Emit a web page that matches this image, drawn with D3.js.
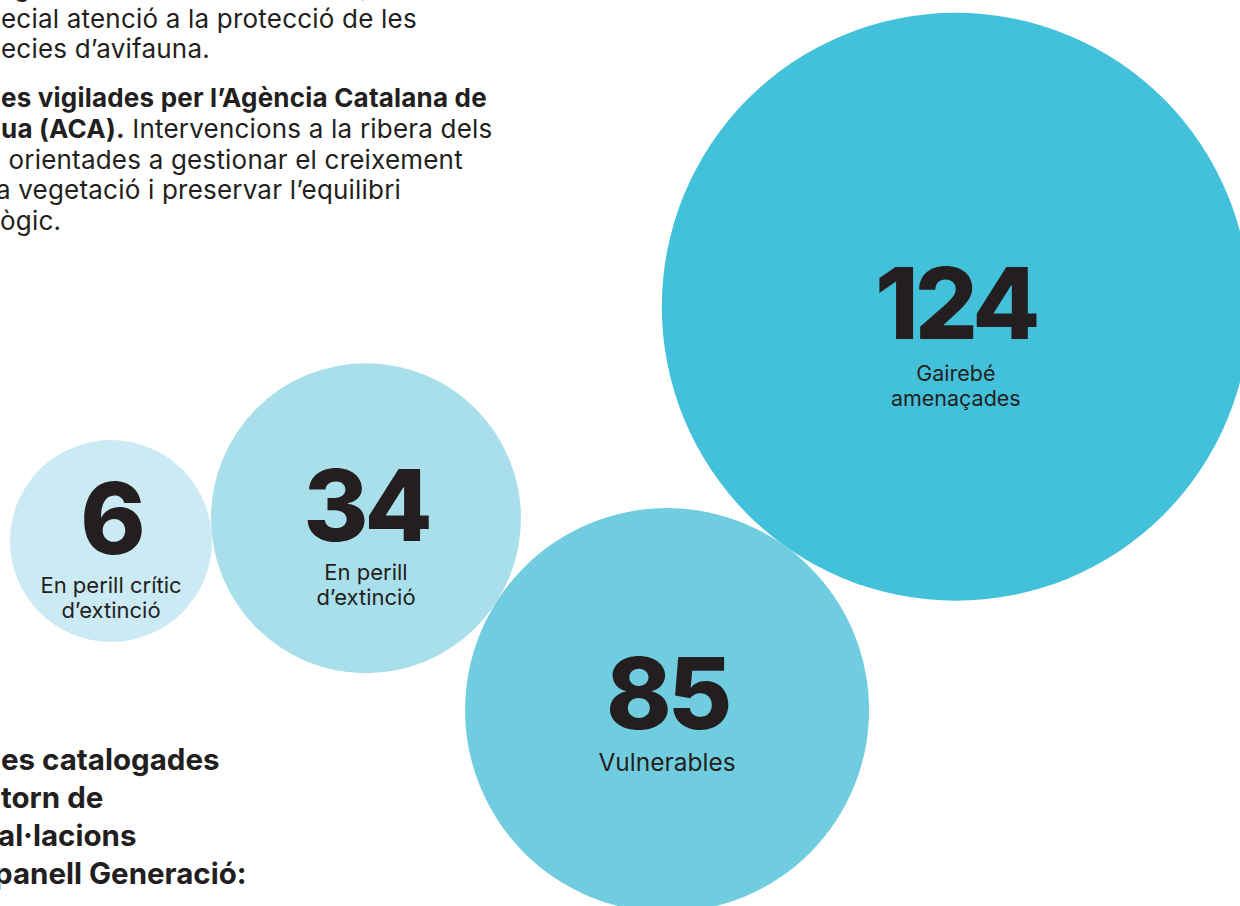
<!DOCTYPE html>
<html>
<head>
<meta charset="utf-8">
<script src="https://cdn.jsdelivr.net/npm/d3@7"></script>
<style>
  body { margin: 0; background: #ffffff; overflow: hidden; }
  svg text { font-family: Inter, "Noto Sans", sans-serif; fill: #231f20; }
</style>
</head>
<body>
<div id="chartDIV"></div>
<script>

// data
var categories = ["En perill crític d’extinció", "En perill d’extinció", "Vulnerables", "Gairebé amenaçades"]
var values = [6, 34, 85, 124]
var labelLines = [["En perill crític", "d’extinció"], ["En perill", "d’extinció"], ["Vulnerables"], ["Gairebé", "amenaçades"]]

// surrounding text of the page (cut at the left edge)
var topLines = [
  {bold: "", text: "ecial atenció a la protecció de les", x: 1, y: 28},
  {bold: "", text: "ecies d’avifauna.", x: 1, y: 58},
  {bold: "es vigilades per l’Agència Catalana de", text: "", x: 1, y: 107},
  {bold: "ua (ACA).", text: " Intervencions a la ribera dels", x: 1, y: 138},
  {bold: "", text: " orientades a gestionar el creixement", x: 1, y: 169},
  {bold: "", text: "a vegetació i preservar l’equilibri", x: -4, y: 199},
  {bold: "", text: "ògic.", x: 0, y: 230}
]
var bottomLines = [
  {text: "es catalogades", x: 1, y: 770},
  {text: "torn de", x: 1, y: 808},
  {text: "al·lacions", x: -2, y: 846},
  {text: "panell Generació:", x: -6, y: 884}
]

var colorList = ["#cceaf3", "#a9dfea", "#70cddf", "#43c1db"]

var width = 1240
var height = 906

var svg = d3.select("#chartDIV").append("svg")
  .attr("width", width)
  .attr("height", height)

// circle size: designer sizes per value
var rScale = d3.scaleLinear()
  .domain(values)
  .range([101, 155, 202, 294])

// chain of tangent circles, each placed at an angle from the previous one
var startX = 111
var startY = 541
var chainAngles = [-5.1, 32.5, -54.4]

// text placement inside each circle
var numberDy = [13, 23, 19, 32]
var labelSize = [22, 22, 24.5, 21.5]
var labelGap = [39, 39, 42, 42]

function layoutCircles()
{
  var nodes = []
  for (var i = 0; i < values.length; i++) {
    var r = rScale(values[i])
    var cx = startX
    var cy = startY
    if (i > 0) {
      var prev = nodes[i - 1]
      var a = chainAngles[i - 1] * Math.PI / 180
      cx = prev.cx + (prev.r + r) * Math.cos(a)
      cy = prev.cy + (prev.r + r) * Math.sin(a)
    }
    nodes.push({value: values[i], label: labelLines[i], name: categories[i], cx: cx, cy: cy, r: r,
      color: colorList[i], dy: numberDy[i], size: labelSize[i], gap: labelGap[i]})
  }
  return nodes
}

function drawText()
{
  var t = svg.append("g").attr("class", "pageText")

  t.selectAll("text.cut")
    .data([{x: 14, t: "g"}, {x: 360, t: ","}])
    .enter()
    .append("text")
    .attr("x", function(d) { return d.x })
    .attr("y", -4)
    .attr("font-size", 26)
    .text(function(d) { return d.t })

  var rows = t.selectAll("text.para")
    .data(topLines)
    .enter()
    .append("text")
    .attr("class", "para")
    .attr("x", function(d) { return d.x })
    .attr("y", function(d) { return d.y })
    .attr("font-size", 26)
    .attr("letter-spacing", 0.2)
    .attr("xml:space", "preserve")
    .style("white-space", "pre")

  rows.append("tspan")
    .attr("font-weight", 700)
    .text(function(d) { return d.bold })
  rows.append("tspan")
    .attr("font-weight", 400)
    .text(function(d) { return d.text })

  t.selectAll("text.head")
    .data(bottomLines)
    .enter()
    .append("text")
    .attr("class", "head")
    .attr("x", function(d) { return d.x })
    .attr("y", function(d) { return d.y })
    .attr("font-size", 29.5)
    .attr("font-weight", 700)
    .text(function(d) { return d.text })
}

function drawCircles(nodes)
{
  var g = svg.selectAll("g.bubble")
    .data(nodes)
    .enter()
    .append("g")
    .attr("class", "bubble")

  g.append("circle")
    .attr("cx", function(d) { return d.cx })
    .attr("cy", function(d) { return d.cy })
    .attr("r", function(d) { return d.r })
    .attr("fill", function(d) { return d.color })

  g.append("text")
    .attr("x", function(d) { return d.cx })
    .attr("y", function(d) { return d.cy + d.dy })
    .attr("text-anchor", "middle")
    .attr("font-size", 99)
    .attr("font-weight", 800)
    .attr("letter-spacing", -4)
    .text(function(d) { return d.value })

  g.each(function(d) {
    var lab = d3.select(this).append("text")
      .attr("text-anchor", "middle")
      .attr("font-size", d.size)

    lab.selectAll("tspan")
      .data(d.label)
      .enter()
      .append("tspan")
      .attr("x", d.cx)
      .attr("y", function(s, i) { return d.cy + d.dy + d.gap + i * 25 })
      .text(function(s) { return s })
  })
}

drawText()
drawCircles(layoutCircles())

</script>
</body>
</html>
